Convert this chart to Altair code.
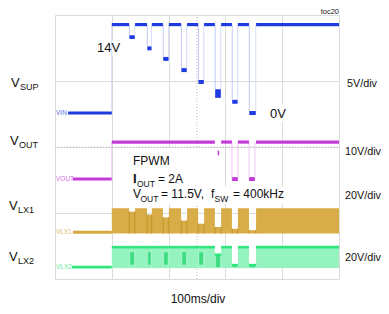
import altair as alt
import pandas as pd

# ---------------- data ----------------
# time axis in ms (100 ms/div, 10 div); vertical axis in screen divisions (8 div)
ch_names = ["VIN", "VOUT", "VLX1", "VLX2"]
ch_zero_div = [5.03, 3.03, 1.42, 0.36]      # ground level of each channel (div)
ch_v_per_div = [5, 10, 20, 20]
ch_colors = ["#1f3ae0", "#c43bd9", "#d4a83c", "#2ee67c"]
ch_trace_from = [46, 63, 63, 60]            # ms, trace start after channel tag
t_on = 200
t_end = 1000

# supply pulses (VIN high windows) and dips
high_start = [200, 282, 341, 401, 465, 525, 585, 644, 708]
high_end = [261, 324, 380, 444, 504, 563, 623, 683, 1000]
dip_start = [261, 324, 380, 444, 504, 563, 623, 683]
dip_end = [282, 341, 401, 465, 525, 585, 644, 708]

vin_high = 13.4
vin_dip_lo = [11.2, 9.5, 7.9, 6.2, 4.4, 2.3, 1.4, -0.3]
vin_dip_hi = [11.8, 10.1, 8.5, 6.8, 5.0, 3.6, 2.0, 0.3]

vout_high = 11.2
vout_seg_start = [200, 585, 644, 708]
vout_seg_end = [563, 623, 683, 1000]
vout_dip_start = [573, 623, 683]
vout_dip_end = [578, 644, 704]
vout_dip_lo = [7.2, -0.6, -0.6]
vout_dip_hi = [8.6, 0.6, 0.6]

lx1_high = 14.5
lx1_dip_top = [12.4, 10.6, 8.9, 7.0, 5.1, 3.1, 2.0, 1.2]

lx2_high = 12.1
lx2_dip_top = [12.1, 12.1, 12.1, 12.1, 12.1, 7.5, 1.2, 1.2]
lx2_dark_lo = [1.5, 1.5, 1.5, 1.5, 1.5, 0.0, 0.0, 0.0]
lx2_dark_hi = [9.0, 9.0, 9.0, 9.0, 9.0, 7.5, 1.2, 1.2]


def d(ch, v):
    return ch_zero_div[ch] + v / ch_v_per_div[ch]


# ---------------- tables ----------------
segs = []      # horizontal trace segments
rects = []     # filled areas
vlines = []    # faint vertical edges

# VIN
segs.append((ch_trace_from[0], t_on, d(0, 0), ch_colors[0], 3))
for a, b in zip(high_start, high_end):
    segs.append((a, b, d(0, vin_high), ch_colors[0], 3.2))
for k, (a, b) in enumerate(zip(dip_start, dip_end)):
    rects.append((a + 1, b - 1, d(0, vin_dip_lo[k]), d(0, vin_dip_hi[k]), ch_colors[0], 1.0))
    vlines.append((a + 1, d(0, vin_dip_hi[k]), d(0, vin_high), "#b4bcf5", 0.8))
    vlines.append((b - 1, d(0, vin_dip_hi[k]), d(0, vin_high), "#ccd2f8", 0.8))
vlines.append((t_on, d(0, 0), d(0, vin_high), "#c4cbf6", 0.8))

# VOUT
segs.append((ch_trace_from[1], t_on, d(1, 0), ch_colors[1], 3))
for a, b in zip(vout_seg_start, vout_seg_end):
    segs.append((a, b, d(1, vout_high), ch_colors[1], 3.2))
for k, (a, b) in enumerate(zip(vout_dip_start, vout_dip_end)):
    rects.append((a, b, d(1, vout_dip_lo[k]), d(1, vout_dip_hi[k]), ch_colors[1], 1.0))
    if k > 0:
        vlines.append((a, d(1, 0), d(1, vout_high), "#eab9f1", 0.8))
        vlines.append((b, d(1, 0), d(1, vout_high), "#eab9f1", 0.8))
vlines.append((t_on, d(1, 0), d(1, vout_high), "#eab9f1", 0.8))

# VLX1 band
segs.append((ch_trace_from[2], t_on, d(2, 0), ch_colors[2], 3))
for a, b in zip(high_start, high_end):
    rects.append((a, b, d(2, -0.8), d(2, lx1_high), "#d8ad47", 1.0))
for k, (a, b) in enumerate(zip(dip_start, dip_end)):
    rects.append((a, b, d(2, -0.8), d(2, lx1_dip_top[k]), "#d8ad47", 1.0))
    vlines.append((a + 1, d(2, -0.8), d(2, lx1_dip_top[k]), "#c99b30", 1.6))
    vlines.append((b - 1, d(2, -0.8), d(2, lx1_dip_top[k]), "#c99b30", 1.6))

# VLX2 band
segs.append((ch_trace_from[3], t_on, d(3, 0), ch_colors[3], 2.6))
for a, b in zip(high_start, high_end):
    rects.append((a, b, d(3, -0.6), d(3, lx2_high), "#95f3bf", 1.0))
    segs.append((a, b, d(3, lx2_high), ch_colors[3], 2.6))
for k, (a, b) in enumerate(zip(dip_start, dip_end)):
    rects.append((a, b, d(3, -0.6), d(3, lx2_dip_top[k]), "#95f3bf", 1.0))
    rects.append((a + 4, b - 4, d(3, lx2_dark_lo[k]), d(3, lx2_dark_hi[k]), "#3fdc82", 1.0))
    segs.append((a, b, d(3, lx2_dip_top[k]), ch_colors[3], 2.6))

segs_df = pd.DataFrame(segs, columns=["t0", "t1", "y", "col", "w"])
rects_df = pd.DataFrame(rects, columns=["t0", "t1", "y0", "y1", "col", "op"])
vl_df = pd.DataFrame(vlines, columns=["t", "y0", "y1", "col", "w"])
tags_df = pd.DataFrame({"t": [0] * 4, "y": ch_zero_div, "lab": ch_names, "col": ch_colors})

FONT = "Liberation Sans, Arial, sans-serif"
W, H = 284, 264

xs = alt.Scale(domain=[0, 1000], nice=False, zero=False)
ys = alt.Scale(domain=[0, 8], nice=False, zero=False)
xax = alt.Axis(values=list(range(0, 1001, 100)), grid=True, labels=False, ticks=False,
               domain=False, title=None, gridColor="#dcdcdc", gridWidth=1)
yax = alt.Axis(values=list(range(0, 9)), grid=True, labels=False, ticks=False,
               domain=False, title=None, gridColor="#dcdcdc", gridWidth=1)

base_grid = alt.Chart(pd.DataFrame({"t": [0], "y": [0]})).mark_point(opacity=0).encode(
    x=alt.X("t:Q", scale=xs, axis=xax), y=alt.Y("y:Q", scale=ys, axis=yax))

center_v = alt.Chart(pd.DataFrame({"t": [500], "y0": [0], "y1": [8]})).mark_rule(
    color="#b8b8b8", strokeDash=[1, 2], strokeWidth=1).encode(
    x=alt.X("t:Q", scale=xs), y=alt.Y("y0:Q", scale=ys), y2="y1:Q")
center_h = alt.Chart(pd.DataFrame({"t0": [0], "t1": [1000], "y": [4]})).mark_rule(
    color="#b8b8b8", strokeDash=[1, 2], strokeWidth=1).encode(
    x=alt.X("t0:Q", scale=xs), x2="t1:Q", y=alt.Y("y:Q", scale=ys))


def box(x0, y0, x1, y1):
    return alt.Chart(pd.DataFrame({"a": [0]})).mark_rect(color="white").encode(
        x=alt.value(x0 - 55), x2=alt.value(x1 - 55), y=alt.value(y0 - 15), y2=alt.value(y1 - 15))


boxes = [box(90, 40, 129, 56), box(262, 104, 301, 122), box(125, 148, 217, 190), box(125, 187, 288, 204)]

rect_layer = alt.Chart(rects_df).mark_rect().encode(
    x=alt.X("t0:Q", scale=xs), x2="t1:Q", y=alt.Y("y0:Q", scale=ys), y2="y1:Q",
    color=alt.Color("col:N", scale=None), opacity=alt.Opacity("op:Q", scale=None))

vl_layer = alt.Chart(vl_df).mark_rule().encode(
    x=alt.X("t:Q", scale=xs), y=alt.Y("y0:Q", scale=ys), y2="y1:Q",
    color=alt.Color("col:N", scale=None), strokeWidth=alt.StrokeWidth("w:Q", scale=None))

seg_layer = alt.Chart(segs_df).mark_rule(strokeCap="butt").encode(
    x=alt.X("t0:Q", scale=xs), x2="t1:Q", y=alt.Y("y:Q", scale=ys),
    color=alt.Color("col:N", scale=None), strokeWidth=alt.StrokeWidth("w:Q", scale=None))

tag_layer = alt.Chart(tags_df).mark_text(align="left", baseline="middle", dx=1, fontSize=6.5,
                                         font=FONT, opacity=0.75).encode(
    x=alt.X("t:Q", scale=xs), y=alt.Y("y:Q", scale=ys), text="lab:N",
    color=alt.Color("col:N", scale=None))


def txt(s, px, py, size=12, weight="normal", align="left", color="#111111"):
    return alt.Chart(pd.DataFrame({"a": [0]})).mark_text(
        text=s, align=align, baseline="alphabetic", fontSize=size, fontWeight=weight,
        font=FONT, color=color).encode(x=alt.value(px - 55), y=alt.value(py - 15))


texts = [
    txt("toc20", 339, 13.5, 7.5, align="right"),
    # left channel names
    txt("V", 11, 87, 13), txt("SUP", 20, 90, 9),
    txt("V", 10, 145, 13), txt("OUT", 19, 148, 9),
    txt("V", 9, 210, 13), txt("LX1", 18, 213, 9),
    txt("V", 9, 261, 13), txt("LX2", 18, 264, 9),
    # right scale labels
    txt("5V/div", 347, 87, 10.8),
    txt("10V/div", 345, 155, 10.8),
    txt("20V/div", 345, 199, 10.8),
    txt("20V/div", 345, 261, 10.8),
    txt("100ms/div", 198, 302.5, 12, align="center"),
    # level annotations
    txt("14V", 97, 52, 13),
    txt("0V", 270, 118, 13),
    # condition box
    txt("FPWM", 133, 165, 12),
    txt("I", 133, 183, 13, weight="bold"), txt("OUT", 137, 187, 8.5), txt("= 2A", 158, 183, 12),
    txt("V", 133, 198, 12), txt("OUT", 140.5, 202, 8.5), txt("= 11.5V,", 161, 198, 12),
    txt("f", 211, 198, 12), txt("SW", 214.5, 202, 8.5), txt("= 400kHz", 233, 198, 12),
]

chart = alt.layer(
    base_grid, center_v, center_h, *boxes, rect_layer, vl_layer, seg_layer, tag_layer, *texts
).properties(
    width=W, height=H,
    padding={"left": 47, "top": 7, "right": 42, "bottom": 27},
    autosize=alt.AutoSizeParams(type="none"),
).configure_view(stroke="#1a1a1a", strokeWidth=1.5).configure(background="white")

chart.save("out.html", embed_options={"renderer": "svg", "actions": False})
